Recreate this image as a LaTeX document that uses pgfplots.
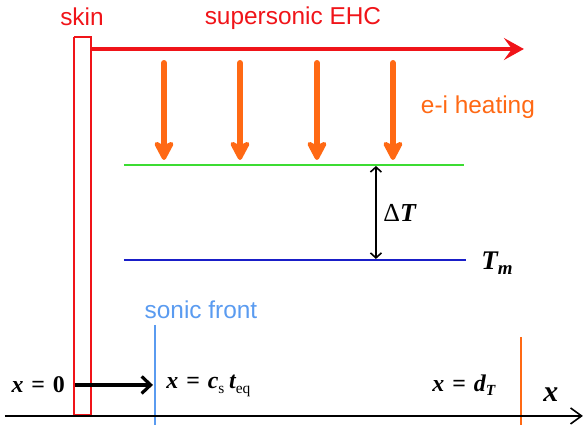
\documentclass[border=0pt]{standalone}
\usepackage{pgfplots}
\pgfplotsset{compat=1.18}
\usepackage{fontspec}
\setmainfont{Liberation Sans}
\newfontfamily\tms{Liberation Serif}
\usetikzlibrary{arrows.meta}
\definecolor{skred}{RGB}{240,20,25}
\definecolor{heat}{RGB}{255,105,20}
\definecolor{grn}{RGB}{60,220,50}
\definecolor{blu}{RGB}{25,30,200}
\definecolor{lblu}{RGB}{90,155,240}
\newcommand{\bi}[1]{{\tms\bfseries\itshape #1}}
\newcommand{\bu}[1]{{\tms\bfseries #1}}
\newcommand{\sub}[1]{\raisebox{-0.35ex}{\tms\fontsize{15.5}{15.5}\selectfont #1}}
\newcommand{\eqs}{\hspace{0.33em}\bu{=}\hspace{0.33em}}
\begin{document}
\begin{tikzpicture}
\begin{axis}[
  width=584bp, height=425bp, scale only axis,
  xmin=0, xmax=584, ymin=0, ymax=425, y dir=reverse,
  hide axis, clip=false,
]
\path (rel axis cs:0,0) rectangle (rel axis cs:1,1);
% skin rectangle
\addplot[skred, line width=2.3pt] coordinates {(74,37) (91,37) (91,415) (74,415) (74,37)};
% supersonic arrow
\addplot[skred, line width=4pt, -{Stealth[length=20bp,width=22bp,inset=8bp]}] coordinates {(92,49) (524,49)};
% heating arrows
\addplot[heat, line width=6pt, line cap=round, -{Stealth[length=23bp,width=24bp,inset=6bp,round]}] coordinates {(164,63) (164,160)};
\addplot[heat, line width=6pt, line cap=round, -{Stealth[length=23bp,width=24bp,inset=6bp,round]}] coordinates {(240,63) (240,160)};
\addplot[heat, line width=6pt, line cap=round, -{Stealth[length=23bp,width=24bp,inset=6bp,round]}] coordinates {(317,63) (317,160)};
\addplot[heat, line width=6pt, line cap=round, -{Stealth[length=23bp,width=24bp,inset=6bp,round]}] coordinates {(393,63) (393,160)};
% temperature levels
\addplot[grn, line width=2.2pt] coordinates {(124,165) (464,165)};
\addplot[blu, line width=2.2pt] coordinates {(124,260) (466,260)};
\addplot[black, line width=1.6pt, {Straight Barb[length=5bp,width=11bp]}-{Straight Barb[length=5bp,width=11bp]}] coordinates {(376,166) (376,259)};
% sonic front
\addplot[lblu, line width=2.8pt] coordinates {(155,325) (155,425)};
% d_T marker
\addplot[heat, line width=2.8pt] coordinates {(521,337) (521,425)};
% black arrow
\addplot[black, line width=3.2pt, -{Straight Barb[length=9bp,width=17bp,line width=3.2pt]}] coordinates {(75,385) (153,385)};
% x axis
\addplot[black, line width=1.6pt, -{Straight Barb[length=11bp,width=16bp,line width=1.6pt]}] coordinates {(5,416) (583,416)};
% labels
\node[skred, font=\fontsize{24.5}{28}\selectfont] at (axis cs:82,17) {skin};
\node[skred, font=\fontsize{24.5}{28}\selectfont] at (axis cs:293,18) {supersonic EHC};
\node[heat, font=\fontsize{24.5}{28}\selectfont] at (axis cs:478,107) {e-i heating};
\node[lblu, font=\fontsize{24.5}{28}\selectfont] at (axis cs:201,310) {sonic front};
\node[font=\fontsize{26}{30}\selectfont, anchor=west] at (axis cs:380,213) {{\tms Δ}\bi{T}};
\node[font=\fontsize{27}{30}\selectfont, anchor=west] at (axis cs:478,263) {\bi{T}\raisebox{-0.35ex}{\tms\bfseries\itshape\fontsize{19}{19}\selectfont m}};
\node[font=\fontsize{24}{28}\selectfont, anchor=west] at (axis cs:8,385) {\bi{x}\eqs\bu{0}};
\node[font=\fontsize{24}{28}\selectfont, anchor=west] at (axis cs:163,386) {\bi{x}\eqs\bi{c}\sub{s}\hspace{0.2em}\bi{t}\sub{eq}};
\node[font=\fontsize{24}{28}\selectfont, anchor=west] at (axis cs:429,385) {\bi{x}\eqs\bi{d}\raisebox{-0.35ex}{\tms\bfseries\itshape\fontsize{15.5}{15.5}\selectfont T}};
\node[font=\fontsize{30}{34}\selectfont] at (axis cs:551,395) {\bi{x}};
\end{axis}
\end{tikzpicture}
\end{document}
